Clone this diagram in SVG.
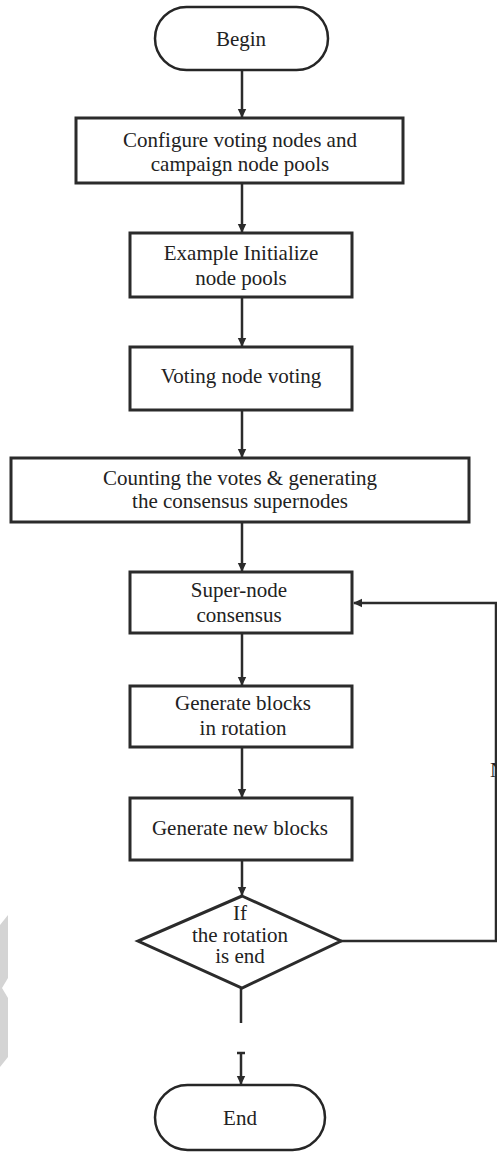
<svg xmlns="http://www.w3.org/2000/svg" width="497" height="1153" viewBox="0 0 497 1153">
  <style>
    .box { fill: #ffffff; stroke: #2b2b2b; stroke-width: 3; }
    .term { fill: #ffffff; stroke: #262626; stroke-width: 2.5; }
    .lbl { font-family: "Liberation Serif", "Times New Roman", serif; font-size: 21px; fill: #222222; text-anchor: middle; }
    .wire { fill: none; stroke: #2b2b2b; stroke-width: 2.5; }
  </style>
  <defs>
    <marker id="arrow" markerWidth="10" markerHeight="10" refX="8" refY="5" orient="auto" markerUnits="userSpaceOnUse">
      <path d="M0,0.8 L9,5 L0,9.2 Z" fill="#2b2b2b"/>
    </marker>
  </defs>
  <rect width="497" height="1153" fill="#ffffff"/>

  <!-- faint grey mark along the left edge -->
  <polygon points="0,925 8,915 8,978 2,988 8,998 8,1057 0,1067" fill="#d4d4d4"/>

  <g id="connectors">
    <line class="wire" x1="242" y1="70" x2="242" y2="117" marker-end="url(#arrow)"/>
    <line class="wire" x1="242" y1="183" x2="242" y2="232" marker-end="url(#arrow)"/>
    <line class="wire" x1="242" y1="297" x2="242" y2="346" marker-end="url(#arrow)"/>
    <line class="wire" x1="242" y1="410" x2="242" y2="457" marker-end="url(#arrow)"/>
    <line class="wire" x1="242" y1="522" x2="242" y2="571" marker-end="url(#arrow)"/>
    <line class="wire" x1="242" y1="633" x2="242" y2="685" marker-end="url(#arrow)"/>
    <line class="wire" x1="242" y1="747" x2="242" y2="797" marker-end="url(#arrow)"/>
    <line class="wire" x1="242" y1="860" x2="242" y2="895" marker-end="url(#arrow)"/>
    <!-- loop back: decision (No) to super-node consensus -->
    <polyline class="wire" points="341,941 496,941 496,603 354,603" marker-end="url(#arrow)"/>
    <!-- exit to End -->
    <line class="wire" x1="241" y1="988" x2="241" y2="1023"/>
    <line class="wire" x1="237" y1="1053" x2="245" y2="1053" stroke-width="1.5"/>
    <line class="wire" x1="241" y1="1053" x2="241" y2="1084" marker-end="url(#arrow)"/>
  </g>

  <g id="begin">
    <rect class="term" x="155" y="7" width="173" height="63" rx="31.5" ry="31.5"/>
    <text class="lbl" x="241" y="46">Begin</text>
  </g>

  <g id="configure">
    <rect class="box" x="76" y="118" width="327" height="65"/>
    <text class="lbl" x="240" y="147">Configure voting nodes and</text>
    <text class="lbl" x="240" y="171">campaign node pools</text>
  </g>

  <g id="init-pools">
    <rect class="box" x="130" y="233" width="222" height="64"/>
    <text class="lbl" x="241" y="260">Example Initialize</text>
    <text class="lbl" x="241" y="285">node pools</text>
  </g>

  <g id="voting">
    <rect class="box" x="130" y="347" width="222" height="63"/>
    <text class="lbl" x="241" y="383">Voting node voting</text>
  </g>

  <g id="counting">
    <rect class="box" x="11" y="458" width="458" height="64"/>
    <text class="lbl" x="240" y="485">Counting the votes &amp; generating</text>
    <text class="lbl" x="240" y="508">the consensus supernodes</text>
  </g>

  <g id="consensus">
    <rect class="box" x="130" y="572" width="222" height="61"/>
    <text class="lbl" x="239" y="597">Super-node</text>
    <text class="lbl" x="239" y="622">consensus</text>
  </g>

  <g id="rotation">
    <rect class="box" x="130" y="686" width="222" height="61"/>
    <text class="lbl" x="243" y="710">Generate blocks</text>
    <text class="lbl" x="243" y="735">in rotation</text>
  </g>

  <g id="new-blocks">
    <rect class="box" x="130" y="798" width="222" height="62"/>
    <text class="lbl" x="240" y="835">Generate new blocks</text>
  </g>

  <g id="decision">
    <polygon class="box" points="242,896 341,941 242,988 138,941"/>
    <text class="lbl" x="240" y="920">If</text>
    <text class="lbl" x="240" y="942">the rotation</text>
    <text class="lbl" x="240" y="963">is end</text>
  </g>

  <g id="no-label">
    <text class="lbl" x="490" y="777" style="text-anchor:start">N</text>
  </g>

  <g id="end">
    <rect class="term" x="155" y="1085" width="170" height="65" rx="32.5" ry="32.5"/>
    <text class="lbl" x="240" y="1125">End</text>
  </g>
</svg>
